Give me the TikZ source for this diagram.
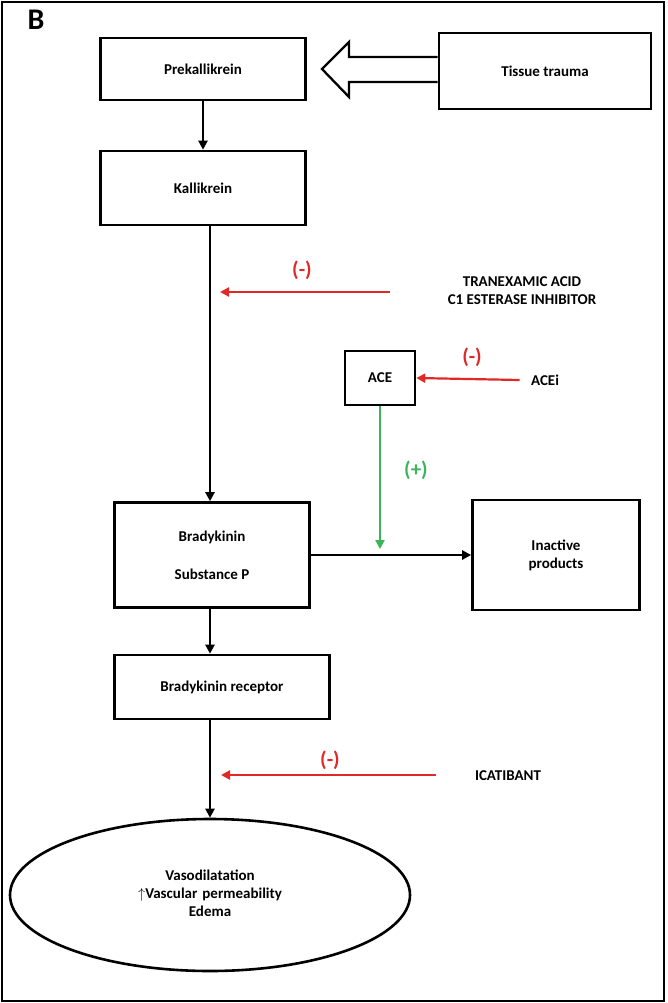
\documentclass[tikz,border=0pt]{standalone}
\usepackage{fontspec}
\setmainfont{Carlito}
\usetikzlibrary{arrows.meta,shapes.geometric}
\definecolor{rd}{RGB}{224,40,40}
\definecolor{gr}{RGB}{60,180,90}
\begin{document}
\begin{tikzpicture}[x=1pt,y=-1pt,
  box/.style={draw,line width=2.6pt,font=\bfseries\fontsize{15}{18}\selectfont,align=center,inner sep=0pt},
  lbl/.style={font=\bfseries\fontsize{15}{18}\selectfont,align=center},
  arr/.style={line width=2.2pt,-{Triangle[length=9pt,width=9pt]}},
  rarr/.style={arr,rd},
  sign/.style={font=\bfseries\fontsize{21}{24}\selectfont}]
\useasboundingbox (0,0) rectangle (667,1003);
\draw[line width=2.5pt] (2,2) rectangle (664,1001);
\node[font=\bfseries\fontsize{30}{30}\selectfont] (B) at (36,20) {B};
\node[box,minimum width=205pt,minimum height=62pt] (pre) at (203,69) {Prekallikrein};
\node[box,minimum width=212pt,minimum height=76pt] (tis) at (545,71) {Tissue trauma};
\draw[line width=2.3pt,fill=white] (tis.west |- 0,57) -- (349,57) -- (349,42) -- (322,69) -- (349,97) -- (349,82) -- (tis.west |- 0,82);
\node[box,minimum width=205pt,minimum height=74pt] (kal) at (203,188) {Kallikrein};
\draw[arr] (pre) -- (kal);
\node[box,minimum width=195pt,minimum height=105pt] (bra) at (212,555) {Bradykinin\\[20pt]Substance P};
\draw[arr] (kal.south -| 210,0) -- (bra.north -| 210,0);
\node[lbl] (tra) at (522,291) {TRANEXAMIC ACID\\C1 ESTERASE INHIBITOR};
\coordinate (t1) at (390,292);
\coordinate (t2) at (220,292);
\draw[rarr] (t1) -- (t2);
\node[sign,rd] at (302,270) {(-)};
\node[box,minimum width=70pt,minimum height=54pt] (ace) at (380,378) {ACE};
\node[lbl] (acei) at (545,380) {ACEi};
\draw[rarr] (acei.west) ++(-8,0) coordinate (a1) -- (ace.east);
\node[sign,rd] at (472,357) {(-)};
\node[box,minimum width=167pt,minimum height=110pt] (ina) at (556,555) {Inactive\\products};
\draw[arr] (bra.east) -- (ina.west);
\coordinate (g2) at (380,549);
\draw[arr,gr] (ace.south) -- (g2);
\node[sign,gr] at (416,470) {(+)};
\node[box,minimum width=215pt,minimum height=64pt] (rec) at (222,687) {Bradykinin receptor};
\draw[arr] (bra.south -| 210,0) -- (rec.north -| 210,0);
\node[draw,line width=2.6pt,ellipse,minimum width=400pt,minimum height=152pt,inner sep=0pt] (ell) at (210,895) {};
\node[lbl,text width=300pt] at (210,893) {Vasodilatation\\$\uparrow$Vascular permeability\\Edema};
\draw[arr] (rec.south -| 210,0) -- (ell.north);
\node[lbl] (ica) at (508,776) {ICATIBANT};
\coordinate (i1) at (436,775);
\coordinate (i2) at (221,775);
\draw[rarr] (i1) -- (i2);
\node[sign,rd] at (330,760) {(-)};
\end{tikzpicture}
\end{document}
